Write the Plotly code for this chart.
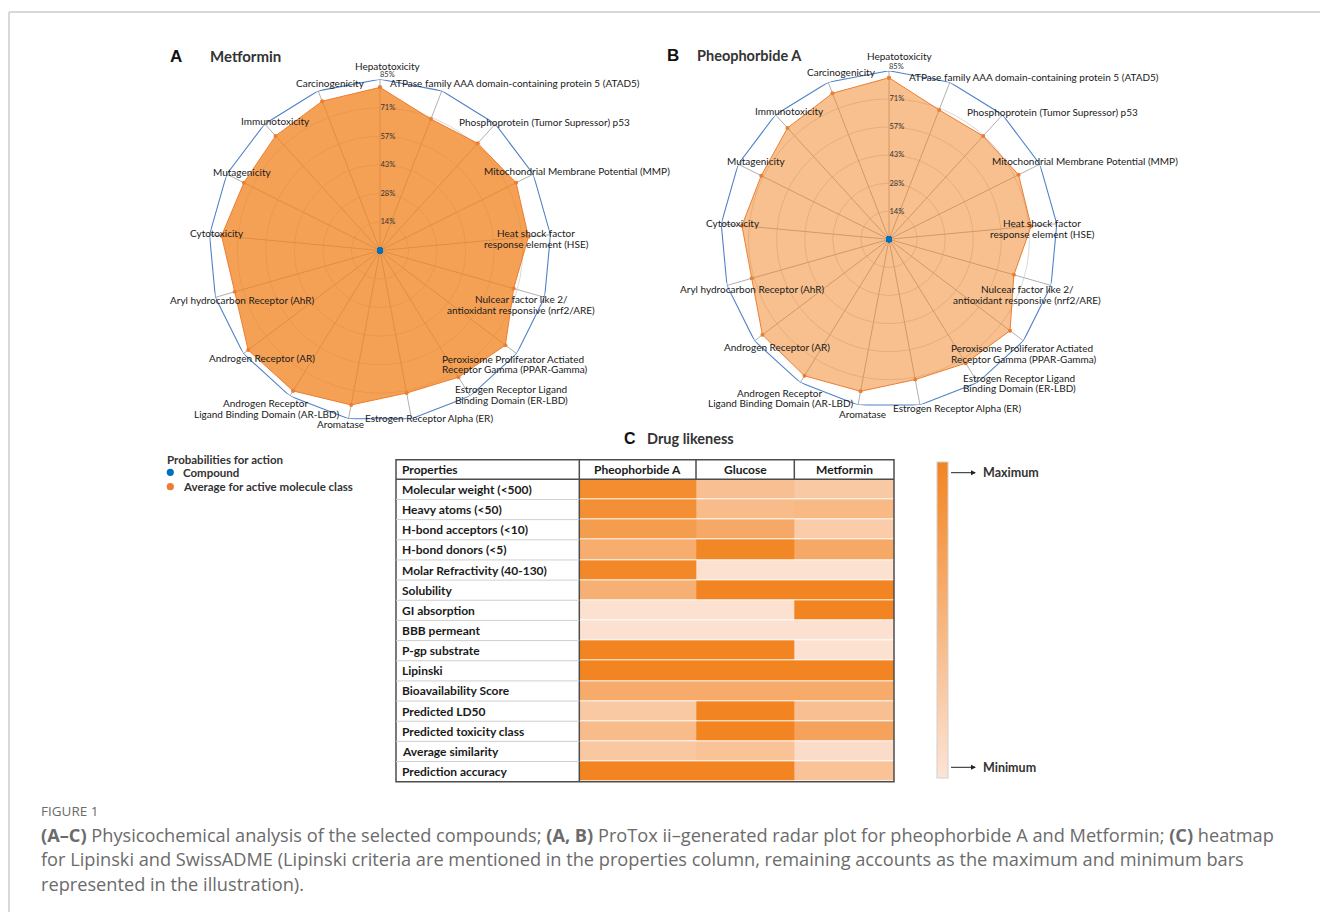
import plotly.graph_objects as go

W, H = 1320, 912

# ---------------- data ----------------
CATEGORIES = [
    "Hepatotoxicity",
    "ATPase family AAA domain-containing protein 5 (ATAD5)",
    "Phosphoprotein (Tumor Supressor) p53",
    "Mitochondrial Membrane Potential (MMP)",
    "Heat shock factor response element (HSE)",
    "Nulcear factor like 2/ antioxidant responsive (nrf2/ARE)",
    "Peroxisome Proliferator Actiated Receptor Gamma (PPAR-Gamma)",
    "Estrogen Receptor Ligand Binding Domain (ER-LBD)",
    "Estrogen Receptor Alpha (ER)",
    "Aromatase",
    "Androgen Receptor Ligand Binding Domain (AR-LBD)",
    "Androgen Receptor (AR)",
    "Aryl hydrocarbon Receptor (AhR)",
    "Cytotoxicity",
    "Mutagenicity",
    "Immunotoxicity",
    "Carcinogenicity",
]
CATEGORY_LABELS = [
    "Hepatotoxicity",
    "ATPase family AAA domain-containing protein 5 (ATAD5)",
    "Phosphoprotein (Tumor Supressor) p53",
    "Mitochondrial Membrane Potential (MMP)",
    "Heat shock factor<br>response element (HSE)",
    "Nulcear factor like 2/<br>antioxidant responsive (nrf2/ARE)",
    "Peroxisome Proliferator Actiated<br>Receptor Gamma (PPAR-Gamma)",
    "Estrogen Receptor Ligand<br>Binding Domain (ER-LBD)",
    "Estrogen Receptor Alpha (ER)",
    "Aromatase",
    "Androgen Receptor<br>Ligand Binding Domain (AR-LBD)",
    "Androgen Receptor (AR)",
    "Aryl hydrocarbon Receptor (AhR)",
    "Cytotoxicity",
    "Mutagenicity",
    "Immunotoxicity",
    "Carcinogenicity",
]

METFORMIN_COMPOUND = [0, 0, 0, 0, 0, 0, 0, 0, 0, 0, 0, 0, 0, 0, 0, 0, 0]
METFORMIN_AVERAGE = [81, 70, 72, 75.5, 74, 69, 78, 74, 72, 78, 82, 82, 75, 79, 75.5, 77, 79.5]
PHEO_COMPOUND = [0, 0, 0, 0, 0, 0, 0, 0, 0, 0, 0, 0, 0, 0, 0, 0, 0]
PHEO_AVERAGE = [81.5, 70, 70.5, 73, 72, 65.5, 76.5, 73.5, 72, 78, 81, 80, 72, 74.5, 72, 76, 79]

RADIAL_TICKS = [14.17, 28.33, 42.5, 56.67, 70.83]
RADIAL_TICK_LABELS = ["14%", "28%", "43%", "57%", "71%"]
RADIAL_MAX = 85
RADIAL_MAX_LABEL = "85%"

PROPERTIES = [
    "Molecular weight (<500)", "Heavy atoms (<50)", "H-bond acceptors (<10)",
    "H-bond donors (<5)", "Molar Refractivity (40-130)", "Solubility",
    "GI absorption", "BBB permeant", "P-gp substrate", "Lipinski",
    "Bioavailability Score", "Predicted LD50", "Predicted toxicity class",
    "Average similarity", "Prediction accuracy",
]
COMPOUNDS = ["Pheophorbide A", "Glucose", "Metformin"]
PHEO_SCORES = [0.92, 0.9, 0.75, 0.58, 0.97, 0.55, 0.03, 0.03, 1, 1, 0.6, 0.28, 0.42, 0.3, 1]
GLUCOSE_SCORES = [0.38, 0.42, 0.62, 0.98, 0.03, 1, 0.03, 0.03, 1, 1, 0.6, 1, 1, 0.35, 1]
METFORMIN_SCORES = [0.28, 0.45, 0.25, 0.62, 0.03, 1, 1, 0.03, 0.03, 1, 0.6, 0.38, 0.68, 0.08, 0.35]

# ---------------- layout helpers ----------------
def px(x):
    return x / W

def py(y):
    return 1 - y / H

FONT = "Lato"
TXT = "#1a1a1a"
ORANGE = "#ED7D31"
BLUE = "#0070C0"
FRAME_BLUE = "#4F81C7"

# label placement per panel: (x px, y px of first line, anchor)
LABELS_A = [
    (388, 66, "center"), (388, 82.7, "left"), (456.7, 122.3, "left"),
    (481.7, 170.5, "left"), (536, 233.3, "center"), (521, 299.3, "center"),
    (440, 358.7, "left"), (452.7, 389, "left"), (363.3, 418.3, "left"),
    (340, 424.3, "center"), (266, 403.3, "center"), (317.3, 358.3, "right"),
    (316.7, 300, "right"), (246, 233.3, "right"), (272.7, 171.7, "right"),
    (311.7, 120.7, "right"), (366.7, 82.7, "right"),
]
LABELS_B = [
    (900, 56, "center"), (906.7, 76.7, "left"), (965, 111.7, "left"),
    (990, 160.7, "left"), (1042, 223.3, "center"), (1027, 289.3, "center"),
    (949, 348.3, "left"), (961, 377.7, "left"), (891, 407.7, "left"),
    (862, 414, "center"), (780, 392.7, "center"), (831.7, 347.3, "right"),
    (826.7, 289.3, "right"), (761.7, 223.3, "right"), (786.7, 160.7, "right"),
    (825.7, 110.7, "right"), (878.3, 71.7, "right"),
]
LINE_GAP = 10.6

fig = go.Figure()

def add_radar(polar, compound, average, fillcolor):
    closed_theta = CATEGORIES + [CATEGORIES[0]]
    fig.add_trace(go.Scatterpolar(
        r=[RADIAL_MAX] * len(closed_theta), theta=closed_theta, mode="lines",
        line=dict(color=FRAME_BLUE, width=1.1), subplot=polar,
        showlegend=False, hoverinfo="skip", cliponaxis=False))
    fig.add_trace(go.Scatterpolar(
        r=average + [average[0]], theta=closed_theta, mode="lines+markers",
        fill="toself", fillcolor=fillcolor,
        line=dict(color=ORANGE, width=1), marker=dict(color=ORANGE, size=4),
        subplot=polar, name="Average for active molecule class",
        showlegend=False, cliponaxis=False))
    fig.add_trace(go.Scatterpolar(
        r=compound, theta=CATEGORIES, mode="markers",
        marker=dict(color=BLUE, size=6), subplot=polar,
        name="Compound", showlegend=False))
    fig.add_trace(go.Scatterpolar(
        r=[RADIAL_MAX], theta=[CATEGORIES[0]], mode="text",
        text=[RADIAL_MAX_LABEL], textposition="top right",
        textfont=dict(family=FONT, size=7.5, color="#333"),
        subplot=polar, showlegend=False, hoverinfo="skip", cliponaxis=False))

add_radar("polar", METFORMIN_COMPOUND, METFORMIN_AVERAGE, "rgba(240,130,30,0.75)")
add_radar("polar2", PHEO_COMPOUND, PHEO_AVERAGE, "rgba(240,130,30,0.5)")

# heatmap
COL_EDGES = [0, 116.7, 215, 314.7]
z = [[p, g, m] for p, g, m in zip(PHEO_SCORES, GLUCOSE_SCORES, METFORMIN_SCORES)]
fig.add_trace(go.Heatmap(
    z=z, x=COL_EDGES, y=PROPERTIES, zmin=0, zmax=1, ygap=1,
    colorscale=[[0, "#FCE4D6"], [1, "#F28522"]],
    hoverinfo="skip",
    colorbar=dict(
        x=px(936.7), xanchor="left", xpad=0,
        y=py(462.3), yanchor="top", ypad=0,
        len=316, lenmode="pixels", thickness=11, thicknessmode="pixels",
        outlinecolor="#d0d0d0", outlinewidth=1,
        showticklabels=False, ticks="")))


def polar_layout(cx, cy, R):
    return dict(
        domain=dict(x=[px(cx - R), px(cx + R)], y=[py(cy + R), py(cy - R)]),
        bgcolor="rgba(0,0,0,0)",
        gridshape="circular",
        angularaxis=dict(
            type="category", categoryarray=CATEGORIES, direction="clockwise",
            rotation=90, showline=False, showticklabels=False, ticks="",
            gridcolor="rgba(150,150,150,0.75)", gridwidth=1),
        radialaxis=dict(
            range=[0, RADIAL_MAX], tickvals=RADIAL_TICKS, ticktext=RADIAL_TICK_LABELS,
            angle=90, tickangle=90, showline=False, ticks="",
            gridcolor="rgba(185,185,185,0.55)", gridwidth=1,
            tickfont=dict(family=FONT, size=7.5, color="#333")),
    )

annotations = []
shapes = []

def add_text(x, y, text, size=10, anchor="left", color=TXT, family=FONT, xref="paper", yref="paper"):
    annotations.append(dict(
        x=x, y=y, xref=xref, yref=yref, text=text, showarrow=False,
        xanchor=anchor, yanchor="middle",
        font=dict(family=family, size=size, color=color)))

for layout_list in (LABELS_A, LABELS_B):
    for label, (x, y, anchor) in zip(CATEGORY_LABELS, layout_list):
        for i, line in enumerate(label.split("<br>")):
            add_text(px(x), py(y + i * LINE_GAP), line, size=10, anchor=anchor)

# panel titles
add_text(px(168), py(56.5), "<b>A</b>", size=17, color="#111", family="Liberation Sans")
add_text(px(207.5), py(56.5), "<b>Metformin</b>", size=15, color="#333")
add_text(px(665), py(56), "<b>B</b>", size=17, color="#111", family="Liberation Sans")
add_text(px(695), py(56), "<b>Pheophorbide A</b>", size=14.5, color="#333")
add_text(px(621.5), py(438), "<b>C</b>", size=16, color="#111", family="Liberation Sans")
add_text(px(644.5), py(438), "<b>Drug likeness</b>", size=14.5, color="#333")

# legend (radar)
add_text(px(165), py(459.5), "<b>Probabilities for action</b>", size=11.5, color="#333")
add_text(px(180.5), py(472.8), "<b>Compound</b>", size=11.5, color="#333")
add_text(px(180.5), py(486.7), "<b>Average for active molecule class</b>", size=11.5, color="#333")
for cy_, col in ((472.3, BLUE), (486.7, ORANGE)):
    shapes.append(dict(type="circle", xref="paper", yref="paper",
                       x0=px(166.7), x1=px(173.9), y0=py(cy_ + 3.6), y1=py(cy_ - 3.6),
                       fillcolor=col, line=dict(width=0)))

# table header + property labels
TOP, HEAD_BOT, BOT = 459.7, 479.3, 781.7
LEFT, DIV, RIGHT = 396, 579.3, 894
add_text(px(399.5), py(469.7), "<b>Properties</b>", size=12, color="#1a1a1a")
for i, name in enumerate(COMPOUNDS):
    add_text((COL_EDGES[i] + COL_EDGES[i + 1]) / 2, py(469.7), "<b>%s</b>" % name,
             size=12, anchor="center", color="#1a1a1a", xref="x")
for prop in PROPERTIES:
    add_text(px(399.5), prop, "<b>%s</b>" % prop, size=12, color="#1a1a1a", yref="y")

line_dark = dict(color="#4d4d4d", width=1.5)
shapes.append(dict(type="rect", xref="paper", yref="paper", x0=px(LEFT), x1=px(RIGHT),
                   y0=py(BOT), y1=py(TOP), line=line_dark))
shapes.append(dict(type="line", xref="paper", yref="paper", x0=px(DIV), x1=px(DIV),
                   y0=py(BOT), y1=py(TOP), line=line_dark))
shapes.append(dict(type="line", xref="paper", yref="paper", x0=px(LEFT), x1=px(RIGHT),
                   y0=py(HEAD_BOT), y1=py(HEAD_BOT), line=line_dark))
for e in COL_EDGES[1:-1]:
    shapes.append(dict(type="line", xref="x", yref="paper", x0=e, x1=e,
                       y0=py(HEAD_BOT), y1=py(TOP), line=line_dark))
for k in range(1, len(PROPERTIES)):
    shapes.append(dict(type="line", xref="paper", yref="y", x0=px(LEFT), x1=px(DIV),
                       y0=k - 0.5, y1=k - 0.5, line=dict(color="#cfcfcf", width=1)))

# colour bar arrows + labels
for yy, lab in ((472.7, "Maximum"), (767.3, "Minimum")):
    annotations.append(dict(x=px(976), y=py(yy), xref="paper", yref="paper", text=" ",
                            showarrow=True, ax=-28, ay=0, arrowhead=2, arrowsize=1,
                            arrowwidth=1, arrowcolor="#222", standoff=0, startstandoff=0))
    add_text(px(981), py(yy), "<b>%s</b>" % lab, size=12.5, color="#333")

# frame lines
shapes.append(dict(type="line", xref="paper", yref="paper", x0=px(9), x1=1,
                   y0=py(12), y1=py(12), line=dict(color="#cccccc", width=1.5)))
shapes.append(dict(type="line", xref="paper", yref="paper", x0=px(9), x1=px(9),
                   y0=0, y1=py(12), line=dict(color="#cccccc", width=1.5)))

# caption
CAP = "#6b6b6b"
CAP_FONT = "Open Sans"
add_text(px(39), py(811), "FIGURE 1", size=13.5, color=CAP, family=CAP_FONT)
cap_lines = [
    "<b>(A–C)</b> Physicochemical analysis of the selected compounds; <b>(A, B)</b> ProTox ii–generated radar plot for pheophorbide A and Metformin; <b>(C)</b> heatmap",
    "for Lipinski and SwissADME (Lipinski criteria are mentioned in the properties column, remaining accounts as the maximum and minimum bars",
    "represented in the illustration).",
]
for i, line in enumerate(cap_lines):
    add_text(px(39), py(834.5 + i * 24.5), line, size=18.2, color=CAP, family=CAP_FONT)

fig.update_layout(
    width=W, height=H, autosize=False,
    margin=dict(l=0, r=0, t=0, b=0),
    paper_bgcolor="white", plot_bgcolor="white",
    showlegend=False,
    polar=polar_layout(380, 250.5, 171.2),
    polar2=polar_layout(889, 239.3, 168.5),
    xaxis=dict(domain=[px(DIV), px(RIGHT)], range=[COL_EDGES[0], COL_EDGES[-1]],
               showgrid=False, zeroline=False, showticklabels=False, ticks="", anchor="y"),
    yaxis=dict(domain=[py(BOT), py(HEAD_BOT)], autorange="reversed", type="category",
               showgrid=False, zeroline=False, showticklabels=False, ticks="", anchor="x"),
    annotations=annotations,
    shapes=shapes,
    font=dict(family=FONT),
)

fig.write_html("out.html", config={"displayModeBar": False},
               post_script="document.body.style.margin='0px';")
